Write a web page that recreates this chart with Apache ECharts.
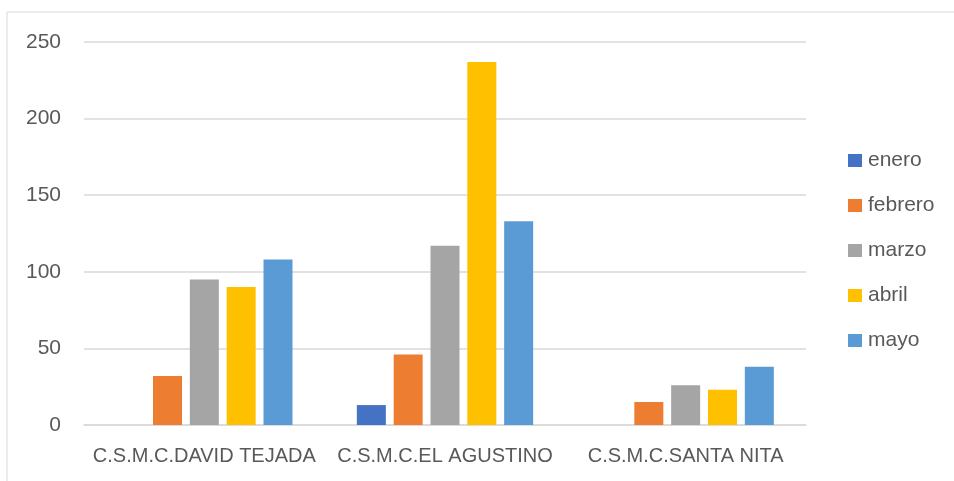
<!DOCTYPE html>
<html>
<head>
<meta charset="utf-8">
<title>C.S.M.C. atenciones</title>
<script src="https://cdn.jsdelivr.net/npm/echarts@6/dist/echarts.min.js"></script>
<style>
  html, body { margin: 0; padding: 0; background: #fff; }
  #chart { width: 954px; height: 481px; }
</style>
</head>
<body>
<div id="chart"></div>
<script>
// categorías (centros)
const centros = ['C.S.M.C.DAVID TEJADA', 'C.S.M.C.EL AGUSTINO', 'C.S.M.C.SANTA NITA'];

// valores por mes
const enero   = [0, 13, 0];
const febrero = [32, 46, 15];
const marzo   = [95, 117, 26];
const abril   = [90, 237, 23];
const mayo    = [108, 133, 38];

const meses = ['enero', 'febrero', 'marzo', 'abril', 'mayo'];
const valores = [enero, febrero, marzo, abril, mayo];
const colores = ['#4472C4', '#ED7D31', '#A5A5A5', '#FFC000', '#5B9BD5'];

const FONT = 'Liberation Sans';
const TEXT_COLOR = '#595959';

const chart = echarts.init(document.getElementById('chart'));

const option = {
    animation: false,
    backgroundColor: '#fff',
    // borde exterior del gráfico
    graphic: [{
        type: 'rect',
        shape: { x: 7, y: 12, width: 960, height: 480 },
        style: { fill: 'none', stroke: '#d9d9d9', lineWidth: 1 },
        silent: true
    }],
    grid: {
        left: 84,
        right: 148,
        top: 42,
        bottom: 56
    },
    legend: {
        orient: 'vertical',
        left: 848,
        top: 150,
        padding: 0,
        itemWidth: 14,
        itemHeight: 13,
        itemGap: 24,
        icon: 'rect',
        textStyle: {
            fontFamily: FONT,
            fontSize: 21,
            color: TEXT_COLOR,
            padding: [0, 0, 0, 1]
        },
        data: meses
    },
    xAxis: {
        type: 'category',
        data: centros,
        axisLine: { show: true, lineStyle: { color: '#d9d9d9', width: 1.5 } },
        axisTick: { show: false },
        axisLabel: {
            interval: 0,
            margin: 21,
            fontFamily: FONT,
            fontSize: 20,
            color: TEXT_COLOR
        }
    },
    yAxis: {
        type: 'value',
        min: 0,
        max: 250,
        interval: 50,
        axisLine: { show: false },
        axisTick: { show: false },
        splitLine: { lineStyle: { color: '#d9d9d9', width: 1.5 } },
        axisLabel: {
            margin: 23,
            fontFamily: FONT,
            fontSize: 21,
            color: TEXT_COLOR
        }
    },
    series: meses.map((m, i) => ({
        name: m,
        type: 'bar',
        data: valores[i],
        barWidth: 29,
        barGap: '27%',
        itemStyle: { color: colores[i] }
    }))
};

chart.setOption(option);
</script>
</body>
</html>
